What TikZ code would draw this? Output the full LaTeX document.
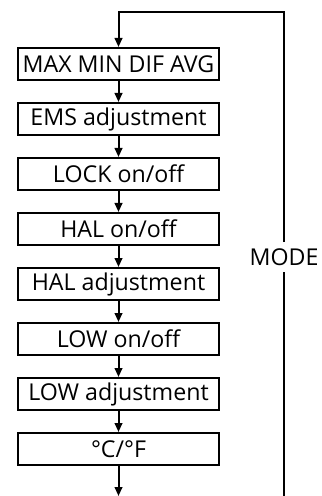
\documentclass[tikz,border=0pt]{standalone}
\usepackage{fontspec}
\setmainfont{Open Sans}
\usepackage{tikz}
\usetikzlibrary{arrows.meta,positioning}

\begin{document}
\begin{tikzpicture}[
    font=\fontsize{11.6}{14}\selectfont,
    step box/.style={rectangle, draw, line width=1pt, minimum width=100.5pt, minimum height=16pt, inner sep=0pt, text centered},
    arrow/.style={line width=1pt, -{Triangle[length=4.5pt,width=3.8pt]}},
    node distance=10.5pt
  ]
    \useasboundingbox (0,0) rectangle (160.5pt,-248pt);
    % Nodes
    \node[step box] (maxmin) at (59.25pt,-32pt) {MAX MIN DIF AVG};
    \node[step box, below=of maxmin] (ems) {EMS adjustment};
    \node[step box, below=of ems] (lock) {LOCK on/off};
    \node[step box, below=of lock] (halon) {HAL on/off};
    \node[step box, below=of halon] (haladj) {HAL adjustment};
    \node[step box, below=of haladj] (lowon) {LOW on/off};
    \node[step box, below=of lowon] (lowadj) {LOW adjustment};
    \node[step box, below=of lowadj] (unit) {°C/°F};
    \node[fill=white, inner sep=3pt] (mode) at (142pt,-128.5pt) {MODE};
    \coordinate (exit) at (59.25pt,-248pt);
    \coordinate (back) at (142pt,-248pt);
    \coordinate (turn) at (142pt,-6pt);

    % Arrows
    \draw[arrow] (maxmin) -- (ems);
    \draw[arrow] (ems) -- (lock);
    \draw[arrow] (lock) -- (halon);
    \draw[arrow] (halon) -- (haladj);
    \draw[arrow] (haladj) -- (lowon);
    \draw[arrow] (lowon) -- (lowadj);
    \draw[arrow] (lowadj) -- (unit);
    \draw[arrow] (unit) -- (exit);
    \draw[line width=1pt] (back) -- (mode);
    \draw[arrow] (mode) -- (turn) -| (maxmin);
  \end{tikzpicture}
\end{document}
